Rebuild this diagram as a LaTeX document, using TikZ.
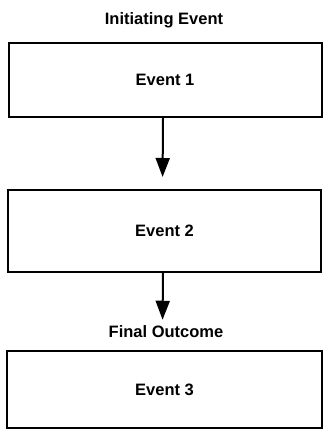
\documentclass[tikz,border=0pt]{standalone}
\usepackage{fontspec}
\setmainfont{Liberation Sans}
\usetikzlibrary{arrows.meta}
\begin{document}
\begin{tikzpicture}[x=1pt,y=1pt,
  evbox/.style={draw=black, line width=2pt, minimum width=313pt, inner sep=0pt, font=\fontsize{16.5}{19}\selectfont\bfseries},
  lbl/.style={inner sep=0pt, font=\fontsize{16.5}{19}\selectfont\bfseries},
  conn/.style={line width=2pt, -{Triangle[length=19pt,width=14pt]}}]
\useasboundingbox (0,0) rectangle (322,435);
\node[lbl] (init) at (164,415) {Initiating Event};
\node[evbox, minimum height=74pt] (b1) at (165,355) {Event 1};
\node[evbox, minimum height=82pt] (b2) at (164.5,204) {Event 2};
\node[lbl] (fin) at (166,103) {Final Outcome};
\node[evbox, minimum width=315pt, minimum height=77pt] (b3) at (164.5,45.5) {Event 3};
\draw[conn, shorten >=12pt] ([xshift=-2pt]b1.south) -- ([xshift=-2pt]b2.north);
\draw[conn, shorten >=6pt] ([xshift=-1.5pt]b2.south) -- ([xshift=-3.5pt]fin.north);
\end{tikzpicture}
\end{document}
